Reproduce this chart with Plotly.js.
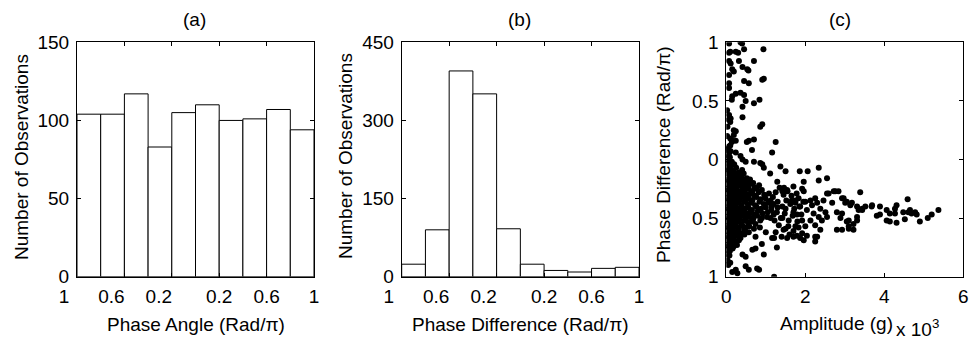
<!DOCTYPE html>
<html>
<head>
<meta charset="utf-8">
<script src="https://cdn.plot.ly/plotly-3.0.1.min.js"></script>
<style>html,body{margin:0;padding:0;background:#fff;}#chart{width:970px;height:339px;}</style>
</head>
<body>
<div id="chart"></div>
<script>
// ---------- data ----------
const binCenters = [-0.9, -0.7, -0.5, -0.3, -0.1, 0.1, 0.3, 0.5, 0.7, 0.9];
const countsPhaseAngle = [104, 104, 117, 83, 105, 110, 100, 101, 107, 94];
const countsPhaseDiff = [24, 90, 395, 351, 92, 24, 12, 9, 16, 18];

const phaseTickValsNeg = [-1, -0.6, -0.2];
const phaseTickTextNeg = ['1', '0.6', '0.2'];
const phaseTickValsPos = [0.2, 0.6, 1];
const phaseTickTextPos = ['0.2', '0.6', '1'];
const countTicksA = [0, 50, 100, 150];
const countTicksB = [0, 150, 300, 450];
const ampTicks = [0, 2, 4, 6];
const diffTickVals = [-1, -0.5, 0, 0.5, 1];
const diffTickText = ['1', '0.5', '0', '0.5', '1'];

// scatter (c): amplitude (x10^3 g), phase difference (rad/pi) -- sparse points
const scatterSparse = [
  [0.07,0.99],[0.36,1.0],[0.40,0.99],[0.94,0.94],[0.07,0.91],[0.24,0.92],[0.30,0.91],[0.45,0.94],[0.10,0.92],
  [0.07,0.84],[0.11,0.82],[0.32,0.84],[0.70,0.84],[0.15,0.77],[0.19,0.75],[0.41,0.79],[0.53,0.77],[0.56,0.76],[0.07,0.72],
  [0.91,0.68],[0.95,0.69],[0.45,0.67],[0.57,0.65],[0.07,0.65],[0.07,0.61],[0.24,0.56],[0.15,0.54],[0.14,0.51],
  [0.36,0.57],[0.45,0.55],[0.49,0.50],[0.70,0.48],[0.84,0.51],[0.41,0.45],[0.07,0.38],[0.11,0.35],[0.41,0.36],
  [0.02,0.42],[0.03,0.28],[0.02,0.20],[0.06,0.34],[0.10,0.32],[0.86,0.28],[0.91,0.30],[0.19,0.25],[0.24,0.24],
  [0.19,0.21],[0.10,0.18],[0.14,0.15],[0.15,0.16],[0.24,0.16],[0.52,0.15],[0.57,0.16],[0.70,0.17],[1.25,0.15],
  [0.07,0.11],[0.10,0.12],[0.65,0.08],[1.16,0.06],[0.03,0.09],[0.11,0.07],[0.24,0.06],[0.07,0.03],[0.36,0.03],
  [0.41,0.0],[0.49,-0.02],[0.70,-0.02],[0.86,-0.03],[0.91,-0.04],[0.95,-0.07],[1.37,-0.06],[1.50,-0.10],[1.11,-0.12],
  [1.29,-0.19],[1.46,-0.24],[1.54,-0.26],[1.42,-0.27],[1.86,-0.10],[2.06,-0.10],[2.34,-0.07],[2.34,-0.18],[2.55,-0.16],
  [1.96,-0.19],[1.70,-0.23],[1.92,-0.25],[1.96,-0.27],[2.72,-0.27],[2.84,-0.27],[2.55,-0.29],[3.39,-0.28],
  [1.25,-0.28],[1.35,-0.24],[1.45,-0.30],[1.55,-0.27],[1.65,-0.31],[1.78,-0.29],[1.30,-0.36],[1.42,-0.40],[1.52,-0.35],
  [1.62,-0.38],[1.72,-0.42],[1.85,-0.40],[1.95,-0.36],[1.28,-0.45],[1.38,-0.50],[1.48,-0.46],[1.58,-0.52],[1.68,-0.48],
  [1.80,-0.53],[1.90,-0.47],[1.33,-0.56],[1.45,-0.60],[1.57,-0.57],[1.70,-0.61],[1.83,-0.58],[1.25,-0.62],[1.40,-0.66],
  [1.60,-0.64],[1.22,-0.52],[1.50,-0.42],[1.75,-0.35],[1.15,-0.40],[1.12,-0.50],[1.18,-0.32],
  [1.66,-0.35],[1.75,-0.37],[1.83,-0.33],[1.87,-0.40],[2.00,-0.36],[1.70,-0.45],[1.79,-0.47],[1.92,-0.52],[2.04,-0.43],
  [2.13,-0.35],[2.17,-0.39],[2.25,-0.33],[2.30,-0.37],[2.38,-0.42],[2.21,-0.46],[2.34,-0.49],[2.42,-0.52],[2.46,-0.35],
  [2.51,-0.45],[2.55,-0.49],[2.13,-0.52],[2.00,-0.57],[2.25,-0.56],[2.38,-0.60],[1.75,-0.57],[1.92,-0.63],[1.79,-0.65],
  [1.96,-0.69],[2.25,-0.66],[2.68,-0.37],[2.80,-0.45],[2.93,-0.46],[2.97,-0.33],[3.01,-0.37],[3.14,-0.39],[3.10,-0.52],
  [2.89,-0.50],[2.80,-0.60],[2.93,-0.60],[3.10,-0.59],[3.22,-0.55],[3.31,-0.49],[3.35,-0.43],[3.44,-0.42],[3.52,-0.40],
  [3.22,-0.60],[2.59,-0.29],[2.76,-0.27],[2.93,-0.33],[3.05,-0.36],[3.18,-0.37],[3.31,-0.40],[3.44,-0.43],[3.69,-0.39],
  [3.10,-0.57],[3.05,-0.53],[3.31,-0.52],
  [3.68,-0.40],[3.89,-0.40],[4.06,-0.43],[4.31,-0.39],[4.27,-0.42],[3.81,-0.48],[3.89,-0.47],[4.14,-0.46],[4.27,-0.46],
  [4.59,-0.34],[4.48,-0.45],[4.61,-0.45],[4.65,-0.43],[4.69,-0.46],[4.78,-0.45],[4.82,-0.47],[4.06,-0.52],[4.14,-0.53],
  [4.31,-0.54],[4.52,-0.51],[4.90,-0.53],[5.10,-0.50],[5.20,-0.47],[5.37,-0.43],
  [1.54,-0.67],[1.70,-0.66],[1.87,-0.67],[2.04,-0.65],[2.30,-0.66],[2.25,-0.70],[1.28,-0.75],[1.16,-0.67],[1.21,-0.67],
  [0.74,-0.66],[0.66,-0.77],[0.74,-0.76],[0.41,-0.81],[0.49,-0.83],[0.95,-0.81],[0.78,-0.93],[0.83,-0.94],[0.49,-0.91],
  [0.57,-0.94],[0.24,-0.94],[0.28,-0.97],[0.15,-0.96],[1.21,-1.0],[0.03,-0.86],[1.50,-0.59],[1.42,-0.50],[0.90,-0.72],
  [1.00,-0.62],[0.85,-0.58],[0.05,-0.90],[0.10,-0.88]
];
// dense cluster near zero amplitude
const scatterCluster = [
  [0.02,0.08],[0.05,0.04],[0.03,0.0],[0.09,0.02],[0.06,-0.03],[0.14,-0.02],[0.11,-0.05],[0.20,-0.04],
  [0.01,-0.07],[0.06,-0.09],[0.12,-0.08],[0.18,-0.10],[0.25,-0.07],[0.31,-0.11],[0.40,-0.09],
  [0.03,-0.12],[0.09,-0.14],[0.15,-0.12],[0.21,-0.15],[0.28,-0.13],[0.35,-0.14],[0.44,-0.12],[0.52,-0.16],
  [0.02,-0.17],[0.07,-0.18],[0.13,-0.16],[0.19,-0.19],[0.26,-0.17],[0.33,-0.18],[0.40,-0.16],[0.49,-0.19],[0.60,-0.17],[0.68,-0.20],
  [0.04,-0.21],[0.10,-0.22],[0.16,-0.20],[0.23,-0.23],[0.29,-0.21],[0.36,-0.22],[0.44,-0.20],[0.52,-0.23],[0.61,-0.21],[0.72,-0.24],[0.83,-0.22],
  [0.01,-0.25],[0.06,-0.26],[0.12,-0.24],[0.19,-0.26],[0.26,-0.25],[0.33,-0.27],[0.41,-0.24],[0.48,-0.26],[0.57,-0.25],[0.66,-0.27],[0.77,-0.25],[0.90,-0.26],
  [0.03,-0.29],[0.09,-0.30],[0.15,-0.28],[0.22,-0.30],[0.29,-0.29],[0.36,-0.31],[0.44,-0.28],[0.52,-0.30],[0.61,-0.29],[0.71,-0.31],[0.82,-0.28],[0.96,-0.30],[1.08,-0.29],
  [0.02,-0.33],[0.07,-0.34],[0.13,-0.32],[0.20,-0.34],[0.27,-0.33],[0.34,-0.35],[0.41,-0.32],[0.49,-0.34],[0.57,-0.33],[0.66,-0.35],[0.76,-0.32],[0.87,-0.34],[0.99,-0.33],[1.12,-0.35],
  [0.04,-0.37],[0.10,-0.38],[0.16,-0.36],[0.23,-0.38],[0.30,-0.37],[0.38,-0.39],[0.46,-0.36],[0.54,-0.38],[0.63,-0.37],[0.73,-0.39],[0.84,-0.36],[0.95,-0.38],[1.06,-0.37],[1.20,-0.38],
  [0.01,-0.41],[0.06,-0.42],[0.12,-0.40],[0.18,-0.42],[0.25,-0.41],[0.32,-0.43],[0.39,-0.40],[0.47,-0.42],[0.56,-0.41],[0.65,-0.43],[0.76,-0.40],[0.88,-0.42],[1.00,-0.41],[1.14,-0.43],[1.30,-0.41],
  [0.03,-0.45],[0.09,-0.46],[0.15,-0.44],[0.21,-0.46],[0.28,-0.45],[0.35,-0.47],[0.43,-0.44],[0.51,-0.46],[0.60,-0.45],[0.70,-0.47],[0.80,-0.44],[0.92,-0.46],[1.05,-0.45],[1.20,-0.47],
  [0.02,-0.49],[0.07,-0.50],[0.13,-0.48],[0.20,-0.50],[0.27,-0.49],[0.34,-0.51],[0.42,-0.48],[0.50,-0.50],[0.58,-0.49],[0.68,-0.51],[0.78,-0.48],[0.90,-0.50],[1.03,-0.49],
  [0.04,-0.53],[0.10,-0.54],[0.16,-0.52],[0.23,-0.54],[0.30,-0.53],[0.38,-0.55],[0.46,-0.52],[0.55,-0.54],[0.64,-0.53],[0.74,-0.55],[0.86,-0.52],
  [0.01,-0.57],[0.06,-0.58],[0.12,-0.56],[0.18,-0.58],[0.25,-0.57],[0.32,-0.59],[0.40,-0.56],[0.49,-0.58],[0.58,-0.57],[0.70,-0.59],
  [0.03,-0.61],[0.09,-0.62],[0.15,-0.60],[0.22,-0.62],[0.29,-0.61],[0.37,-0.63],[0.46,-0.60],[0.57,-0.62],
  [0.02,-0.65],[0.07,-0.66],[0.13,-0.64],[0.20,-0.66],[0.27,-0.65],[0.36,-0.67],[0.46,-0.64],
  [0.04,-0.69],[0.10,-0.70],[0.17,-0.68],[0.24,-0.70],[0.32,-0.69],
  [0.01,-0.73],[0.06,-0.74],[0.12,-0.72],[0.19,-0.74],[0.27,-0.73],
  [0.03,-0.77],[0.09,-0.78],[0.16,-0.76],
  [0.02,-0.81],[0.08,-0.82]
];

// ---------- build ----------
const allPoints = scatterSparse.concat(scatterCluster);
const ampX = allPoints.map(p => p[0]);
const diffY = allPoints.map(p => p[1]);

const FONT = 'Liberation Sans, Arial, Helvetica, sans-serif';
const FS = 19;

const barStyle = {color: '#ffffff', line: {color: '#000000', width: 1}};
const traces = [
  {type: 'bar', x: binCenters, y: countsPhaseAngle, width: 0.2, marker: barStyle, xaxis: 'x', yaxis: 'y', hoverinfo: 'skip'},
  {type: 'bar', x: binCenters, y: countsPhaseDiff, width: 0.2, marker: barStyle, xaxis: 'x2', yaxis: 'y2', hoverinfo: 'skip'},
  {type: 'scatter', mode: 'markers', x: ampX, y: diffY, marker: {color: '#000000', size: 6}, xaxis: 'x3', yaxis: 'y3', hoverinfo: 'skip'},
  {type: 'scatter', mode: 'markers', x: [], y: [], xaxis: 'x4', yaxis: 'y', hoverinfo: 'skip'},
  {type: 'scatter', mode: 'markers', x: [], y: [], xaxis: 'x5', yaxis: 'y2', hoverinfo: 'skip'}
];

function ax(extra) {
  return Object.assign({
    showline: true, linecolor: '#000', linewidth: 1, mirror: 'ticks',
    ticks: 'inside', ticklen: 4, tickcolor: '#000', tickwidth: 1,
    showgrid: false, zeroline: false, fixedrange: true, tickangle: 0,
    tickfont: {family: FONT, size: FS, color: '#000'}
  }, extra);
}
const W = 970, H = 339;
const yDom = [1 - 276.7 / H, 1 - 42.3 / H];
const domA = [77 / W, 314 / W], domB = [401.7 / W, 639 / W], domC = [726.3 / W, 963.3 / W];

const layout = {
  width: W, height: H,
  margin: {l: 0, r: 0, t: 0, b: 0},
  paper_bgcolor: '#fff', plot_bgcolor: '#fff',
  showlegend: false, bargap: 0,
  font: {family: FONT, size: FS, color: '#000'},
  xaxis: ax({domain: domA, range: [-1, 1], tickmode: 'array', tickvals: phaseTickValsPos, ticktext: phaseTickTextPos, anchor: 'y', ticklabelstandoff: 2}),
  xaxis4: ax({domain: domA, range: [-1, 1], overlaying: 'x', side: 'bottom', tickmode: 'array', tickvals: phaseTickValsNeg, ticktext: phaseTickTextNeg, anchor: 'y', ticklabelstandoff: 2, ticklabelshift: -13}),
  yaxis: ax({domain: yDom, range: [0, 150], tickmode: 'array', tickvals: countTicksA, anchor: 'x', ticklabelstandoff: 3}),
  xaxis2: ax({domain: domB, range: [-1, 1], tickmode: 'array', tickvals: phaseTickValsPos, ticktext: phaseTickTextPos, anchor: 'y2', ticklabelstandoff: 2}),
  xaxis5: ax({domain: domB, range: [-1, 1], overlaying: 'x2', side: 'bottom', tickmode: 'array', tickvals: phaseTickValsNeg, ticktext: phaseTickTextNeg, anchor: 'y2', ticklabelstandoff: 2, ticklabelshift: -13}),
  yaxis2: ax({domain: yDom, range: [0, 450], tickmode: 'array', tickvals: countTicksB, anchor: 'x2', ticklabelstandoff: 3}),
  xaxis3: ax({domain: domC, range: [0, 6], tickmode: 'array', tickvals: ampTicks, anchor: 'y3', ticklabelstandoff: 2}),
  yaxis3: ax({domain: yDom, range: [-1, 1], tickmode: 'array', tickvals: diffTickVals, ticktext: diffTickText, anchor: 'x3', ticklabelstandoff: 3}),
  annotations: [
    {text: '(a)', x: 194.5 / W, y: 1 - 20 / H},
    {text: '(b)', x: 519 / W, y: 1 - 20 / H},
    {text: '(c)', x: 840 / W, y: 1 - 20 / H},
    {text: 'Phase Angle (Rad/π)', x: 195.5 / W, y: 1 - 324 / H},
    {text: 'Phase Difference (Rad/π)', x: 520 / W, y: 1 - 324 / H},
    {text: 'Amplitude (g)', x: 836 / W, y: 1 - 323 / H},
    {text: 'x 10<sup>3</sup>', x: 917 / W, y: 1 - 328 / H},
    {text: 'Number of Observations', x: 21 / W, y: 1 - 157 / H, textangle: -90},
    {text: 'Number of Observations', x: 345 / W, y: 1 - 156 / H, textangle: -90},
    {text: 'Phase Difference (Rad/π)', x: 663 / W, y: 1 - 155 / H, textangle: -90}
  ].map(a => Object.assign({xref: 'paper', yref: 'paper', showarrow: false, xanchor: 'center', yanchor: 'middle',
    font: {family: FONT, size: FS, color: '#000'}}, a))
};

Plotly.newPlot('chart', traces, layout, {staticPlot: true, displayModeBar: false});
</script>
</body>
</html>
